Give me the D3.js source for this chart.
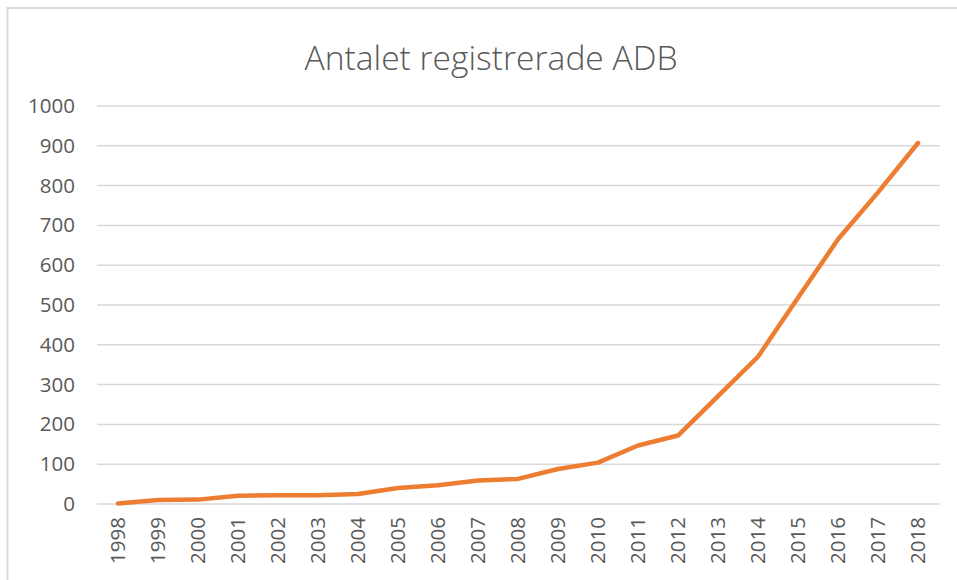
<!DOCTYPE html>
<html>
<head>
<meta charset="utf-8">
<script src="https://cdn.jsdelivr.net/npm/d3@7"></script>
<style>
  body { margin: 0; background: #fff; }
  svg { display: block; font-family: "Open Sans", sans-serif; }
</style>
</head>
<body>
<div id="chart"></div>
<script>
const title = "Antalet registrerade ADB";
const years = ["1998","1999","2000","2001","2002","2003","2004","2005","2006","2007",
               "2008","2009","2010","2011","2012","2013","2014","2015","2016","2017","2018"];
const counts = [1, 10, 11, 21, 22, 22, 25, 40, 47, 59,
                63, 88, 104, 147, 172, 271, 370, 518, 665, 783, 907];
const yTicks = [0, 100, 200, 300, 400, 500, 600, 700, 800, 900, 1000];

const width = 957, height = 580;
const plot = { left: 98, right: 938, top: 106, bottom: 504 };

const svg = d3.select("#chart")
  .append("svg")
  .attr("width", width)
  .attr("height", height);

// chart area border (only top and left edges are visible in the crop)
svg.append("rect")
  .attr("x", 7.5)
  .attr("y", 8)
  .attr("width", 980)
  .attr("height", 600)
  .attr("fill", "#fff")
  .attr("stroke", "#d9d9d9")
  .attr("stroke-width", 2);

const x = d3.scaleBand()
  .domain(years)
  .range([plot.left, plot.right]);

const y = d3.scaleLinear()
  .domain([0, 1000])
  .range([plot.bottom, plot.top]);

// gridlines
svg.append("g")
  .selectAll("line")
  .data(yTicks)
  .enter()
  .append("line")
  .attr("x1", plot.left - 1)
  .attr("x2", plot.right + 2)
  .attr("y1", d => y(d))
  .attr("y2", d => y(d))
  .attr("stroke", "#d9d9d9")
  .attr("stroke-width", 1.5);

// y axis labels
const yAxis = svg.append("g")
  .attr("transform", `translate(${plot.left - 23},0)`)
  .call(d3.axisLeft(y).tickValues(yTicks).tickFormat(d3.format("d")).tickSize(0).tickPadding(0));
yAxis.select(".domain").remove();
yAxis.selectAll("text")
  .attr("fill", "#595959")
  .attr("font-size", 20.5)
  .attr("font-family", "'Open Sans', sans-serif");

// x axis labels, rotated
const xAxis = svg.append("g")
  .attr("transform", `translate(0,${plot.bottom})`)
  .call(d3.axisBottom(x).tickSize(0).tickPadding(0));
xAxis.select(".domain").remove();
xAxis.selectAll("text")
  .attr("fill", "#595959")
  .attr("font-size", 20.5)
  .attr("font-family", "'Open Sans', sans-serif")
  .attr("text-anchor", "end")
  .attr("dy", "0.35em")
  .attr("transform", "translate(0,13) rotate(-90)")
  .attr("y", 0)
  .attr("x", 0);

// line
const line = d3.line()
  .x((d, i) => x(years[i]) + x.bandwidth() / 2)
  .y(d => y(d));

svg.append("path")
  .datum(counts)
  .attr("d", line)
  .attr("fill", "none")
  .attr("stroke", "#ed7d31")
  .attr("stroke-width", 4.5)
  .attr("stroke-linejoin", "round")
  .attr("stroke-linecap", "round");

// title
svg.append("text")
  .attr("x", 491)
  .attr("y", 70)
  .attr("text-anchor", "middle")
  .attr("font-size", 33)
  .attr("font-weight", 300)
  .attr("fill", "#595959")
  .attr("textLength", 373)
  .attr("lengthAdjust", "spacingAndGlyphs")
  .text(title);
</script>
</body>
</html>
